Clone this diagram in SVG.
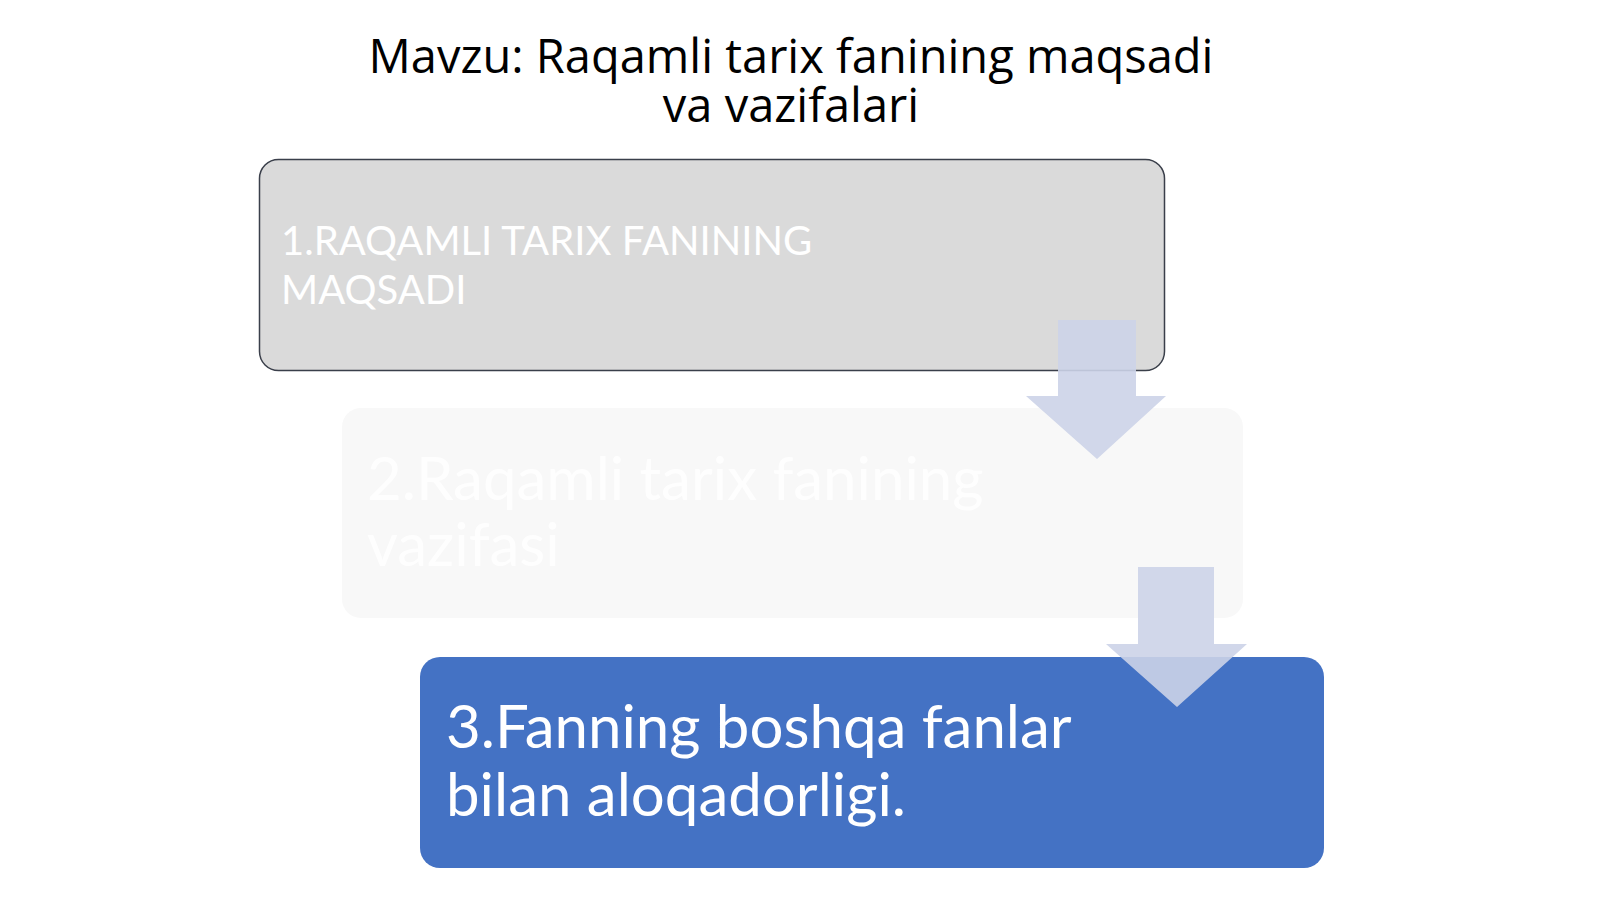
<svg xmlns="http://www.w3.org/2000/svg" width="1600" height="899" viewBox="0 0 1600 899">
<style>
.title{font-family:"Open Sans","Noto Sans","Liberation Sans",sans-serif;font-size:47px;fill:#000;text-anchor:middle}
.lbl{font-family:Lato,"Liberation Sans",sans-serif;fill:#fff}
.arrow{fill:#ccd3e8;fill-opacity:0.9}
</style>
<rect width="1600" height="899" fill="#fff"/>
<g id="title">
<text class="title" x="791" y="73">Mavzu: Raqamli tarix fanining maqsadi</text>
<text class="title" x="791" y="122">va vazifalari</text>
</g>
<g id="node1">
<rect x="259.5" y="159.5" width="905" height="211" rx="19" fill="#dadada" stroke="#3a3f4a" stroke-width="1.5"/>
<text class="lbl" x="281" y="255" font-size="40">1.RAQAMLI TARIX FANINING</text>
<text class="lbl" x="281" y="304" font-size="40">MAQSADI</text>
</g>
<g id="node2">
<rect x="342" y="408" width="901" height="210" rx="19" fill="#f8f8f8"/>
<text class="lbl" x="367" y="500" font-size="60" fill-opacity="0.85">2.Raqamli tarix fanining</text>
<text class="lbl" x="367" y="566" font-size="60" fill-opacity="0.85">vazifasi</text>
</g>
<g id="node3">
<rect x="420" y="657" width="904" height="211" rx="20" fill="#4472c4"/>
<text class="lbl" x="446" y="748" font-size="60">3.Fanning boshqa fanlar</text>
<text class="lbl" x="446" y="816" font-size="60">bilan aloqadorligi.</text>
</g>
<g id="connectors">
<path class="arrow" d="M1058,320 H1136 V396 H1166 L1097,459 L1026,396 H1058 Z"/>
<path class="arrow" d="M1138,567 H1214 V644 H1247 L1177,707 L1106,644 H1138 Z"/>
</g>
</svg>
